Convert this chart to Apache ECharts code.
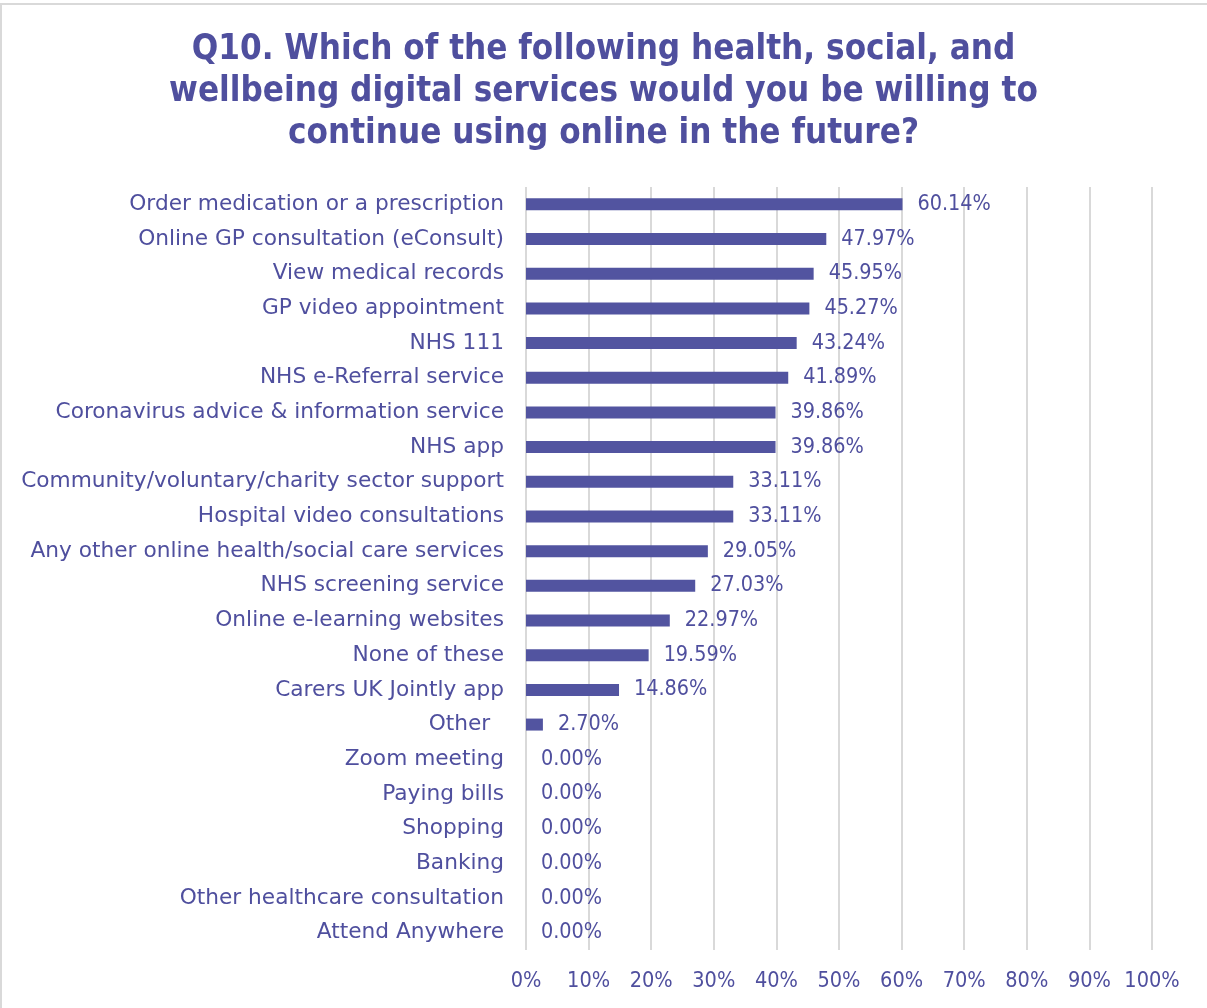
<!DOCTYPE html>
<html>
<head>
<meta charset="utf-8">
<script src="https://cdn.jsdelivr.net/npm/echarts@6/dist/echarts.min.js"></script>
<style>
  html, body { margin: 0; padding: 0; background: #fff; }
  #chart { width: 1207px; height: 1008px; }
</style>
</head>
<body>
<div id="chart"></div>
<script>
// Survey responses, listed top to bottom
const services = [
  'Order medication or a prescription',
  'Online GP consultation (eConsult)',
  'View medical records',
  'GP video appointment',
  'NHS 111',
  'NHS e-Referral service',
  'Coronavirus advice & information service',
  'NHS app',
  'Community/voluntary/charity sector support',
  'Hospital video consultations',
  'Any other online health/social care services',
  'NHS screening service',
  'Online e-learning websites',
  'None of these',
  'Carers UK Jointly app',
  'Other  ',
  'Zoom meeting',
  'Paying bills',
  'Shopping',
  'Banking',
  'Other healthcare consultation',
  'Attend Anywhere'
];
const percentages = [
  60.14, 47.97, 45.95, 45.27, 43.24, 41.89, 39.86, 39.86, 33.11, 33.11, 29.05,
  27.03, 22.97, 19.59, 14.86, 2.70, 0, 0, 0, 0, 0, 0
];
const titleText = 'Q10. Which of the following health, social, and\nwellbeing digital services would you be willing to\ncontinue using online in the future?';

const ink = '#4F4F9E';
const barColor = '#5254A0';
const condensed = '"DejaVu Sans Condensed", "DejaVu Sans", sans-serif';
const regular = '"DejaVu Sans", sans-serif';

const chart = echarts.init(document.getElementById('chart'));
chart.setOption({
  backgroundColor: '#fff',
  animation: false,
  graphic: [
    {
      type: 'line',
      shape: { x1: 0, y1: 4, x2: 1207, y2: 4 },
      style: { stroke: '#D9D9D9', lineWidth: 2 },
      silent: true
    },
    {
      type: 'line',
      shape: { x1: 1, y1: 4, x2: 1, y2: 1008 },
      style: { stroke: '#D9D9D9', lineWidth: 2 },
      silent: true
    }
  ],
  title: {
    text: titleText,
    left: 'center',
    top: 24,
    textStyle: {
      color: ink,
      fontFamily: condensed,
      fontWeight: 'bold',
      fontSize: 34.7,
      lineHeight: 42
    }
  },
  grid: { left: 526, right: 55, top: 187, bottom: 58, containLabel: false },
  xAxis: {
    type: 'value',
    min: 0,
    max: 100,
    interval: 10,
    axisLine: { show: false },
    axisTick: { show: false },
    splitLine: { show: true, lineStyle: { color: '#D9D9D9', width: 2 } },
    axisLabel: {
      formatter: '{value}%',
      color: ink,
      fontFamily: condensed,
      fontSize: 21.5,
      margin: 20
    }
  },
  yAxis: {
    type: 'category',
    data: services,
    inverse: true,
    axisLine: { show: false },
    axisTick: { show: false },
    axisLabel: {
      color: ink,
      fontFamily: regular,
      fontSize: 21.7,
      margin: 22
    }
  },
  series: [{
    type: 'bar',
    data: percentages,
    barWidth: 12,
    itemStyle: { color: barColor },
    label: {
      show: true,
      position: 'right',
      distance: 15,
      color: ink,
      fontFamily: condensed,
      fontSize: 21.4,
      formatter: p => p.value.toFixed(2) + '%'
    }
  }]
});
</script>
</body>
</html>
